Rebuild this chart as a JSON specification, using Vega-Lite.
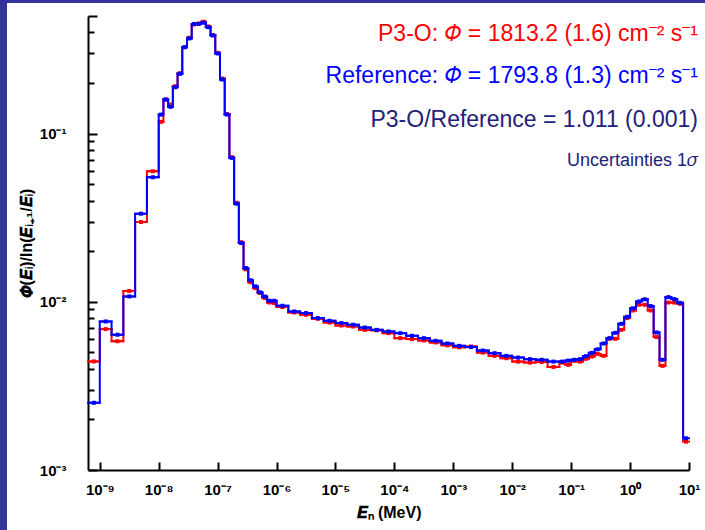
{
  "$schema": "https://vega.github.io/schema/vega-lite/v6.json",
  "width": 698,
  "height": 527,
  "autosize": {"type": "none"},
  "padding": {"left": 7, "top": 3, "right": 0, "bottom": 0},
  "background": "#333399",
  "config": {"view": {"fill": "white", "stroke": null}, "font": "Liberation Sans"},
  "data": {
    "values": [
      {"lo": 6.310e-10, "hi": 1e-9, "mid": 7.943e-10, "p3o": 0.00442, "ref": 0.00251},
      {"lo": 1e-9, "hi": 1.585e-9, "mid": 1.259e-9, "p3o": 0.00688, "ref": 0.00764},
      {"lo": 1.585e-9, "hi": 2.512e-9, "mid": 1.995e-9, "p3o": 0.00583, "ref": 0.00637},
      {"lo": 2.512e-9, "hi": 3.981e-9, "mid": 3.162e-9, "p3o": 0.0116, "ref": 0.01076},
      {"lo": 3.981e-9, "hi": 6.310e-9, "mid": 5.012e-9, "p3o": 0.0298, "ref": 0.0334},
      {"lo": 6.310e-9, "hi": 1e-8, "mid": 7.943e-9, "p3o": 0.0597, "ref": 0.0550},
      {"lo": 1e-8, "hi": 1.2023e-8, "mid": 1.0965e-8, "p3o": 0.1174, "ref": 0.1297},
      {"lo": 1.2023e-8, "hi": 1.4454e-8, "mid": 1.3183e-8, "p3o": 0.1594, "ref": 0.1594},
      {"lo": 1.4454e-8, "hi": 1.7378e-8, "mid": 1.5849e-8, "p3o": 0.1488, "ref": 0.1442},
      {"lo": 1.7378e-8, "hi": 2.0893e-8, "mid": 1.9055e-8, "p3o": 0.1912, "ref": 0.1886},
      {"lo": 2.0893e-8, "hi": 2.5119e-8, "mid": 2.2909e-8, "p3o": 0.2285, "ref": 0.2266},
      {"lo": 2.5119e-8, "hi": 3.0200e-8, "mid": 2.7542e-8, "p3o": 0.327, "ref": 0.326},
      {"lo": 3.0200e-8, "hi": 3.6308e-8, "mid": 3.3113e-8, "p3o": 0.3713, "ref": 0.3677},
      {"lo": 3.6308e-8, "hi": 4.3652e-8, "mid": 3.9811e-8, "p3o": 0.4455, "ref": 0.4485},
      {"lo": 4.3652e-8, "hi": 5.2481e-8, "mid": 4.7863e-8, "p3o": 0.4516, "ref": 0.4485},
      {"lo": 5.2481e-8, "hi": 6.3096e-8, "mid": 5.7544e-8, "p3o": 0.4623, "ref": 0.4560},
      {"lo": 6.3096e-8, "hi": 7.5858e-8, "mid": 6.9183e-8, "p3o": 0.4333, "ref": 0.4292},
      {"lo": 7.5858e-8, "hi": 9.1201e-8, "mid": 8.3176e-8, "p3o": 0.3858, "ref": 0.3832},
      {"lo": 9.1201e-8, "hi": 1.0965e-7, "mid": 1e-7, "p3o": 0.3022, "ref": 0.2994},
      {"lo": 1.0965e-7, "hi": 1.3183e-7, "mid": 1.2023e-7, "p3o": 0.2125, "ref": 0.2096},
      {"lo": 1.3183e-7, "hi": 1.5849e-7, "mid": 1.4454e-7, "p3o": 0.1306, "ref": 0.1297},
      {"lo": 1.5849e-7, "hi": 1.9055e-7, "mid": 1.7378e-7, "p3o": 0.0724, "ref": 0.0717},
      {"lo": 1.9055e-7, "hi": 2.2909e-7, "mid": 2.0893e-7, "p3o": 0.0388, "ref": 0.0383},
      {"lo": 2.2909e-7, "hi": 2.7542e-7, "mid": 2.5119e-7, "p3o": 0.0226, "ref": 0.02235},
      {"lo": 2.7542e-7, "hi": 3.3113e-7, "mid": 3.0200e-7, "p3o": 0.0156, "ref": 0.01587},
      {"lo": 3.3113e-7, "hi": 3.9811e-7, "mid": 3.6308e-7, "p3o": 0.01307, "ref": 0.01343},
      {"lo": 3.9811e-7, "hi": 4.7863e-7, "mid": 4.3652e-7, "p3o": 0.01206, "ref": 0.01235},
      {"lo": 4.7863e-7, "hi": 5.7544e-7, "mid": 5.2481e-7, "p3o": 0.01127, "ref": 0.01138},
      {"lo": 5.7544e-7, "hi": 6.9183e-7, "mid": 6.3096e-7, "p3o": 0.01052, "ref": 0.01075},
      {"lo": 6.9183e-7, "hi": 8.3176e-7, "mid": 7.5858e-7, "p3o": 0.0099, "ref": 0.01014},
      {"lo": 8.3176e-7, "hi": 1e-6, "mid": 9.1201e-7, "p3o": 0.00982, "ref": 0.01014},
      {"lo": 1e-6, "hi": 1.5849e-6, "mid": 1.2589e-6, "p3o": 0.0093, "ref": 0.00947},
      {"lo": 1.5849e-6, "hi": 2.5119e-6, "mid": 1.9953e-6, "p3o": 0.00864, "ref": 0.00876},
      {"lo": 2.5119e-6, "hi": 3.9811e-6, "mid": 3.1623e-6, "p3o": 0.00837, "ref": 0.00857},
      {"lo": 3.9811e-6, "hi": 6.3096e-6, "mid": 5.0119e-6, "p3o": 0.00792, "ref": 0.0080},
      {"lo": 6.3096e-6, "hi": 1e-5, "mid": 7.9433e-6, "p3o": 0.00753, "ref": 0.00771},
      {"lo": 1e-5, "hi": 1.5849e-5, "mid": 1.2589e-5, "p3o": 0.00723, "ref": 0.00747},
      {"lo": 1.5849e-5, "hi": 2.5119e-5, "mid": 1.9953e-5, "p3o": 0.00713, "ref": 0.0073},
      {"lo": 2.5119e-5, "hi": 3.9811e-5, "mid": 3.1623e-5, "p3o": 0.00681, "ref": 0.00703},
      {"lo": 3.9811e-5, "hi": 6.3096e-5, "mid": 5.0119e-5, "p3o": 0.00677, "ref": 0.00681},
      {"lo": 6.3096e-5, "hi": 1e-4, "mid": 7.9433e-5, "p3o": 0.00651, "ref": 0.00666},
      {"lo": 1e-4, "hi": 1.5849e-4, "mid": 1.2589e-4, "p3o": 0.00608, "ref": 0.00651},
      {"lo": 1.5849e-4, "hi": 2.5119e-4, "mid": 1.9953e-4, "p3o": 0.0060, "ref": 0.00628},
      {"lo": 2.5119e-4, "hi": 3.9811e-4, "mid": 3.1623e-4, "p3o": 0.00589, "ref": 0.00608},
      {"lo": 3.9811e-4, "hi": 6.3096e-4, "mid": 5.0119e-4, "p3o": 0.00573, "ref": 0.00586},
      {"lo": 6.3096e-4, "hi": 1e-3, "mid": 7.9433e-4, "p3o": 0.00551, "ref": 0.00565},
      {"lo": 1e-3, "hi": 1.5849e-3, "mid": 1.2589e-3, "p3o": 0.00536, "ref": 0.00547},
      {"lo": 1.5849e-3, "hi": 2.5119e-3, "mid": 1.9953e-3, "p3o": 0.00542, "ref": 0.00538},
      {"lo": 2.5119e-3, "hi": 3.9811e-3, "mid": 3.1623e-3, "p3o": 0.00499, "ref": 0.00513},
      {"lo": 3.9811e-3, "hi": 6.3096e-3, "mid": 5.0119e-3, "p3o": 0.00477, "ref": 0.00495},
      {"lo": 6.3096e-3, "hi": 1e-2, "mid": 7.9433e-3, "p3o": 0.00462, "ref": 0.00477},
      {"lo": 1e-2, "hi": 1.5849e-2, "mid": 1.2589e-2, "p3o": 0.00441, "ref": 0.00466},
      {"lo": 1.5849e-2, "hi": 2.5119e-2, "mid": 1.9953e-2, "p3o": 0.00435, "ref": 0.00456},
      {"lo": 2.5119e-2, "hi": 3.9811e-2, "mid": 3.1623e-2, "p3o": 0.00439, "ref": 0.00452},
      {"lo": 3.9811e-2, "hi": 6.3096e-2, "mid": 5.0119e-2, "p3o": 0.0041, "ref": 0.00441},
      {"lo": 6.3096e-2, "hi": 7.9433e-2, "mid": 7.0795e-2, "p3o": 0.00435, "ref": 0.00441},
      {"lo": 7.9433e-2, "hi": 0.1, "mid": 8.9125e-2, "p3o": 0.00422, "ref": 0.00447},
      {"lo": 0.1, "hi": 0.12589, "mid": 0.1122, "p3o": 0.00446, "ref": 0.00452},
      {"lo": 0.12589, "hi": 0.15849, "mid": 0.14125, "p3o": 0.00441, "ref": 0.00456},
      {"lo": 0.15849, "hi": 0.19953, "mid": 0.17783, "p3o": 0.00458, "ref": 0.00475},
      {"lo": 0.19953, "hi": 0.25119, "mid": 0.22387, "p3o": 0.00473, "ref": 0.00497},
      {"lo": 0.25119, "hi": 0.31623, "mid": 0.28184, "p3o": 0.0049, "ref": 0.00522},
      {"lo": 0.31623, "hi": 0.39811, "mid": 0.35481, "p3o": 0.00477, "ref": 0.00565},
      {"lo": 0.39811, "hi": 0.50119, "mid": 0.44668, "p3o": 0.00602, "ref": 0.00608},
      {"lo": 0.50119, "hi": 0.63096, "mid": 0.56234, "p3o": 0.00602, "ref": 0.00654},
      {"lo": 0.63096, "hi": 0.79433, "mid": 0.70795, "p3o": 0.00681, "ref": 0.0074},
      {"lo": 0.79433, "hi": 1.0, "mid": 0.89125, "p3o": 0.0080, "ref": 0.00814},
      {"lo": 1.0, "hi": 1.2589, "mid": 1.122, "p3o": 0.00888, "ref": 0.00915},
      {"lo": 1.2589, "hi": 1.5849, "mid": 1.4125, "p3o": 0.0096, "ref": 0.01004},
      {"lo": 1.5849, "hi": 1.9953, "mid": 1.7783, "p3o": 0.0096, "ref": 0.01035},
      {"lo": 1.9953, "hi": 2.5119, "mid": 2.2387, "p3o": 0.00888, "ref": 0.00943},
      {"lo": 2.5119, "hi": 3.1623, "mid": 2.8184, "p3o": 0.00617, "ref": 0.00657},
      {"lo": 3.1623, "hi": 3.9811, "mid": 3.5481, "p3o": 0.00416, "ref": 0.00452},
      {"lo": 3.9811, "hi": 5.0119, "mid": 4.4668, "p3o": 0.0099, "ref": 0.01066},
      {"lo": 5.0119, "hi": 6.3096, "mid": 5.6234, "p3o": 0.0099, "ref": 0.01038},
      {"lo": 6.3096, "hi": 7.9433, "mid": 7.0795, "p3o": 0.00973, "ref": 0.00986},
      {"lo": 7.9433, "hi": 10, "mid": 8.9125, "p3o": 0.001474, "ref": 0.001544}
    ]
  },
  "layer": [
    {
      "mark": {"type": "line", "interpolate": "step-after", "color": "#FF0000", "strokeWidth": 2},
      "encoding": {
        "x": {
          "field": "lo", "type": "quantitative", "title": "𝑬ₙ (MeV)",
          "scale": {"type": "log", "domain": [6.31e-10, 10], "range": [81, 682], "nice": false},
          "axis": {
            "title": "𝑬ₙ (MeV)",
            "values": [1e-9, 1e-8, 1e-7, 1e-6, 1e-5, 1e-4, 1e-3, 1e-2, 1e-1, 1, 10],
            "labelExpr": "['10⁻⁹','10⁻⁸','10⁻⁷','10⁻⁶','10⁻⁵','10⁻⁴','10⁻³','10⁻²','10⁻¹','10⁰','10¹'][round(log(datum.value)/LN10)+9]",
            "offset": -60,
            "grid": false,
            "domainColor": "black", "domainWidth": 2,
            "tickColor": "black", "tickWidth": 2, "tickSize": -8,
            "labelFont": "Liberation Sans", "labelFontWeight": "bold", "labelFontSize": 15, "labelColor": "black",
            "labelPadding": 20, "labelOverlap": false, "labelFlush": false,
            "titleFont": "Liberation Sans", "titleFontWeight": "bold", "titleFontSize": 16, "titleColor": "black",
            "titlePadding": 7
          }
        },
        "y": {
          "field": "p3o", "type": "quantitative", "title": "𝜱(𝑬ᵢ)/ln(𝑬ᵢ₊₁/𝑬ᵢ)",
          "scale": {"type": "log", "domain": [0.001, 0.5], "range": [467, 13], "nice": false},
          "axis": {
            "title": "𝜱(𝑬ᵢ)/ln(𝑬ᵢ₊₁/𝑬ᵢ)",
            "values": [0.001, 0.002, 0.003, 0.004, 0.005, 0.006, 0.007, 0.008, 0.009, 0.01, 0.02, 0.03, 0.04, 0.05, 0.06, 0.07, 0.08, 0.09, 0.1, 0.2, 0.3, 0.4, 0.5],
            "labelExpr": "abs(log(datum.value)/LN10 - round(log(datum.value)/LN10)) < 0.001 ? ['10⁻³','10⁻²','10⁻¹'][round(log(datum.value)/LN10)+3] : ''",
            "offset": -81,
            "grid": false,
            "domainColor": "black", "domainWidth": 2,
            "tickColor": "black", "tickWidth": 2,
            "tickSize": {"condition": {"test": "abs(log(datum.value)/LN10 - round(log(datum.value)/LN10)) < 0.001 || datum.value > 0.45", "value": -9}, "value": -6},
            "labelFont": "Liberation Sans", "labelFontWeight": "bold", "labelFontSize": 15, "labelColor": "black",
            "labelPadding": 31, "labelOverlap": false, "labelFlush": false,
            "titleFont": "Liberation Sans", "titleFontWeight": "bold", "titleFontSize": 16, "titleColor": "black",
            "titlePadding": 5
          }
        }
      }
    },
    {
      "mark": {"type": "rule", "color": "#FF0000", "strokeWidth": 2, "strokeCap": "square"},
      "encoding": {
        "x": {"field": "lo", "type": "quantitative", "title": "𝑬ₙ (MeV)"},
        "x2": {"field": "hi"},
        "y": {"field": "p3o", "type": "quantitative", "title": "𝜱(𝑬ᵢ)/ln(𝑬ᵢ₊₁/𝑬ᵢ)"}
      }
    },
    {
      "mark": {"type": "point", "shape": "square", "filled": true, "size": 16, "color": "#FF0000", "opacity": 1},
      "encoding": {
        "x": {"field": "mid", "type": "quantitative", "title": "𝑬ₙ (MeV)"},
        "y": {"field": "p3o", "type": "quantitative", "title": "𝜱(𝑬ᵢ)/ln(𝑬ᵢ₊₁/𝑬ᵢ)"}
      }
    },
    {
      "mark": {"type": "line", "interpolate": "step-after", "color": "#0000FF", "strokeWidth": 2},
      "encoding": {
        "x": {"field": "lo", "type": "quantitative", "title": "𝑬ₙ (MeV)"},
        "y": {"field": "ref", "type": "quantitative", "title": "𝜱(𝑬ᵢ)/ln(𝑬ᵢ₊₁/𝑬ᵢ)"}
      }
    },
    {
      "mark": {"type": "rule", "color": "#0000FF", "strokeWidth": 2, "strokeCap": "square"},
      "encoding": {
        "x": {"field": "lo", "type": "quantitative", "title": "𝑬ₙ (MeV)"},
        "x2": {"field": "hi"},
        "y": {"field": "ref", "type": "quantitative", "title": "𝜱(𝑬ᵢ)/ln(𝑬ᵢ₊₁/𝑬ᵢ)"}
      }
    },
    {
      "mark": {"type": "point", "shape": "square", "filled": true, "size": 16, "color": "#0000FF", "opacity": 1},
      "encoding": {
        "x": {"field": "mid", "type": "quantitative", "title": "𝑬ₙ (MeV)"},
        "y": {"field": "ref", "type": "quantitative", "title": "𝜱(𝑬ᵢ)/ln(𝑬ᵢ₊₁/𝑬ᵢ)"}
      }
    },
    {
      "data": {"values": [{"t": "P3-O: 𝛷 = 1813.2 (1.6) cm⁻² s⁻¹"}]},
      "mark": {"type": "text", "align": "right", "baseline": "alphabetic", "fontSize": 23, "color": "#FF0000", "font": "Liberation Sans"},
      "encoding": {
        "x": {"datum": 14.2, "type": "quantitative"},
        "y": {"datum": 0.357, "type": "quantitative"},
        "text": {"field": "t"}
      }
    },
    {
      "data": {"values": [{"t": "Reference: 𝛷 = 1793.8 (1.3) cm⁻² s⁻¹"}]},
      "mark": {"type": "text", "align": "right", "baseline": "alphabetic", "fontSize": 23, "color": "#0000FF", "font": "Liberation Sans"},
      "encoding": {
        "x": {"datum": 14.2, "type": "quantitative"},
        "y": {"datum": 0.2007, "type": "quantitative"},
        "text": {"field": "t"}
      }
    },
    {
      "data": {"values": [{"t": "P3-O/Reference = 1.011 (0.001)"}]},
      "mark": {"type": "text", "align": "right", "baseline": "alphabetic", "fontSize": 23, "color": "#222277", "font": "Liberation Sans"},
      "encoding": {
        "x": {"datum": 14.2, "type": "quantitative"},
        "y": {"datum": 0.1099, "type": "quantitative"},
        "text": {"field": "t"}
      }
    },
    {
      "data": {"values": [{"t": "Uncertainties 1𝜎"}]},
      "mark": {"type": "text", "align": "right", "baseline": "alphabetic", "fontSize": 18, "color": "#222277", "font": "Liberation Sans"},
      "encoding": {
        "x": {"datum": 14.2, "type": "quantitative"},
        "y": {"datum": 0.0645, "type": "quantitative"},
        "text": {"field": "t"}
      }
    }
  ]
}
